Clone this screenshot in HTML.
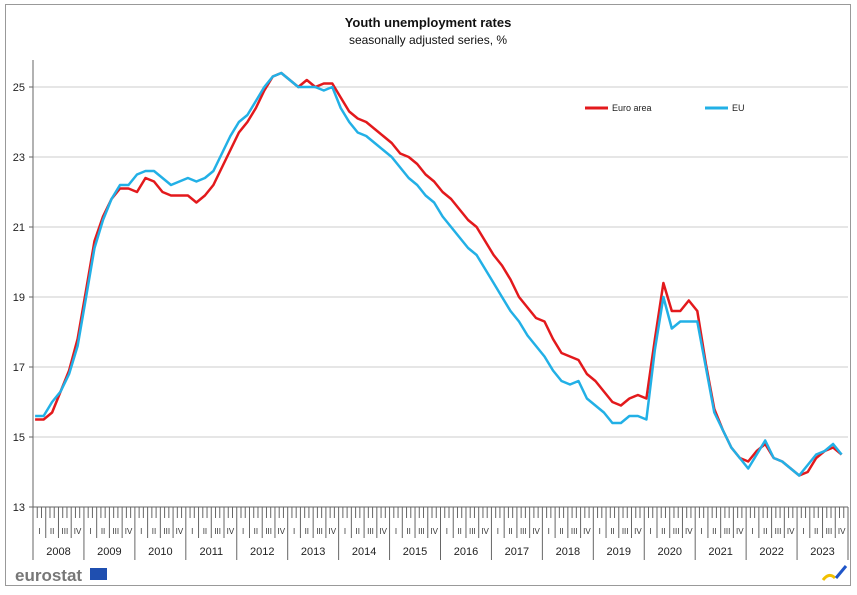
<!DOCTYPE html>
<html><head><meta charset="utf-8"><style>
body{margin:0;background:#fff;font-family:"Liberation Sans",Arial,sans-serif}
#frame{position:absolute;left:5px;top:4px;width:846px;height:582px;border:1px solid #999;box-sizing:border-box}
</style></head><body>
<div id="frame"></div>
<svg id="c" width="857" height="595" style="position:absolute;left:0;top:0">
<text x="428" y="27" text-anchor="middle" font-size="13" font-weight="bold" fill="#111">Youth unemployment rates</text>
<text x="428" y="44" text-anchor="middle" font-size="12" fill="#111">seasonally adjusted series, %</text>
<g id="grid"></g><g id="axes"></g><g id="series"></g>
<g>
<line x1="585" y1="108" x2="608" y2="108" stroke="#e3191c" stroke-width="3"/>
<text x="612" y="111" font-size="9" fill="#222">Euro area</text>
<line x1="705" y1="108" x2="728" y2="108" stroke="#22b0e6" stroke-width="3"/>
<text x="732" y="111" font-size="9" fill="#222">EU</text>
</g>
<g>
<text x="15" y="581" font-size="17" font-weight="bold" fill="#777">eurostat</text>
<rect x="90" y="568" width="17" height="12" fill="#1f4fb0"/>
</g>
<g>
<path d="M823 580 q6 -8 12 -2" stroke="#f2c000" stroke-width="3" fill="none"/>
<path d="M836 578 l10 -12" stroke="#1f55c8" stroke-width="3"/>
</g>
</svg>
<script>
const years=[2008,2009,2010,2011,2012,2013,2014,2015,2016,2017,2018,2019,2020,2021,2022,2023];
const yTicks=[13,15,17,19,21,23,25];
const euroArea=[15.5,15.5,15.7,16.3,16.9,17.8, 19.2,20.6,21.3,21.8,22.1,22.1, 22.0,22.4,22.3,22.0,21.9,21.9, 21.9,21.7,21.9,22.2,22.7,23.2, 23.7,24.0,24.4,24.9,25.3,25.4, 25.2,25.0,25.2,25.0,25.1,25.1, 24.7,24.3,24.1,24.0,23.8,23.6, 23.4,23.1,23.0,22.8,22.5,22.3, 22.0,21.8,21.5,21.2,21.0,20.6, 20.2,19.9,19.5,19.0,18.7,18.4, 18.3,17.8,17.4,17.3,17.2,16.8, 16.6,16.3,16.0,15.9,16.1,16.2, 16.1,17.8,19.4,18.6,18.6,18.9, 18.6,17.1,15.8,15.2,14.7,14.4, 14.3,14.6,14.8,14.4,14.3,14.1, 13.9,14.0,14.4,14.6,14.7,14.5];
const eu=[15.6,15.6,16.0,16.3,16.8,17.6, 19.0,20.4,21.2,21.8,22.2,22.2, 22.5,22.6,22.6,22.4,22.2,22.3, 22.4,22.3,22.4,22.6,23.1,23.6, 24.0,24.2,24.6,25.0,25.3,25.4, 25.2,25.0,25.0,25.0,24.9,25.0, 24.4,24.0,23.7,23.6,23.4,23.2, 23.0,22.7,22.4,22.2,21.9,21.7, 21.3,21.0,20.7,20.4,20.2,19.8, 19.4,19.0,18.6,18.3,17.9,17.6, 17.3,16.9,16.6,16.5,16.6,16.1, 15.9,15.7,15.4,15.4,15.6,15.6, 15.5,17.5,19.0,18.1,18.3,18.3, 18.3,17.0,15.7,15.2,14.7,14.4, 14.1,14.5,14.9,14.4,14.3,14.1, 13.9,14.2,14.5,14.6,14.8,14.5];
const NS='http://www.w3.org/2000/svg';
const X0=33,X1=848,Y0=507,PX=35;
const mw=(X1-X0)/(years.length*12);
function xm(m){return X0+(m+0.5)*mw;}
function xb(m){return X0+m*mw;}
function y(v){return Y0-(v-13)*PX;}
function el(t,a,p){const e=document.createElementNS(NS,t);for(const k in a)e.setAttribute(k,a[k]);document.getElementById(p).appendChild(e);return e;}
yTicks.forEach(v=>{
  if(v>13){const g=el('line',{x1:X0,x2:X1,y1:y(v),y2:y(v),stroke:'#ccc','stroke-width':1},'grid');
  
  }
  const t=el('text',{x:25,y:y(v)+4,'text-anchor':'end','font-size':11,fill:'#222'},'axes');t.textContent=v;
  
  
  const tk=el('line',{x1:X0-4,x2:X0,y1:y(v),y2:y(v),stroke:'#666'},'axes');
  
  
});
const ya=el('line',{x1:X0,x2:X0,y1:60,y2:Y0,stroke:'#666'},'axes');


const xa=el('line',{x1:X0,x2:X1,y1:Y0,y2:Y0,stroke:'#666'},'axes');


const q=['I','II','III','IV'];
for(let m=0;m<=years.length*12;m++){
  const len=m%12===0?53:(m%3===0?31:11);
  const l=el('line',{x1:xb(m),x2:xb(m),y1:Y0,y2:Y0+len,stroke:'#666','stroke-width':1},'axes');
  
  
  if(m<years.length*12&&m%3===0){
    const t=el('text',{x:xb(m+1.5),y:Y0+27,'text-anchor':'middle','font-size':8,fill:'#333'},'axes');t.textContent=q[(m%12)/3];
    
    
  }
}
years.forEach((yr,i)=>{
  const t=el('text',{x:xb(i*12+6),y:Y0+48,'text-anchor':'middle','font-size':11,fill:'#222'},'axes');t.textContent=yr;
  
  
});
function line(data,color,name){
  const d=data.map((v,i)=>(i?'L':'M')+xm(i*2).toFixed(1)+' '+y(v).toFixed(1)).join(' ');
  const p=el('path',{d:d,stroke:color,'stroke-width':2.5,fill:'none','stroke-linejoin':'round'},'series');
  
  
}
line(euroArea,'#e3191c','euro-area-line');
line(eu,'#22b0e6','eu-line');
</script>
</body></html>
